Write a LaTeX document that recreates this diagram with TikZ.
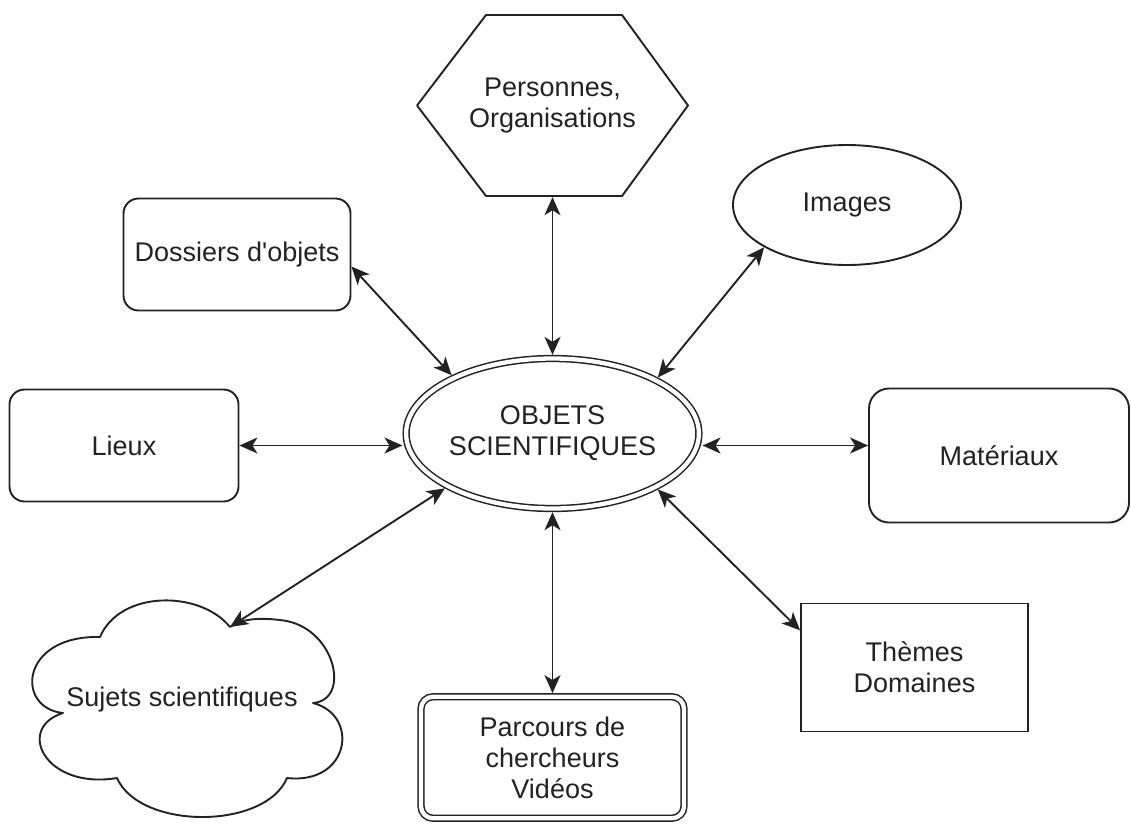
\documentclass[tikz,border=0pt]{standalone}
\usepackage{fontspec}
\setmainfont{Liberation Sans}[Ligatures=TeXOff]
\usetikzlibrary{shapes.geometric,arrows.meta}
\definecolor{ink}{HTML}{222222}
\begin{document}
\begin{tikzpicture}[x=1pt,y=-1pt,
  >={Stealth[length=18pt,width=16pt,inset=5pt]},
  every node/.style={font=\fontsize{27}{31}\selectfont, text=ink, align=center},
  line/.style={draw=ink, line width=1.9pt},
  box/.style={line, rectangle, rounded corners=15pt, inner sep=0pt},
  dbl/.style={draw=ink, line width=1.5pt, double=white, double distance=4.3pt, outer sep=3.65pt},
  arr/.style={draw=ink, line width=1.9pt, <->}]
\useasboundingbox (0,0) rectangle (1131,823);

% central node
\node[ellipse, dbl, minimum width=263, minimum height=150, inner sep=0pt] (ctr) at (552.5,433.5) {OBJETS\\SCIENTIFIQUES};

% hexagon
\draw[line, line join=round] (417,105.5) -- (486,15) -- (622,15) -- (688,105.5) -- (622,196) -- (486,196) -- cycle;
\node[minimum width=271, minimum height=183, inner sep=0pt] (hex) at (552.5,105.5) {Personnes,\\Organisations};

% images
\node[ellipse, line, minimum width=228, minimum height=120, inner sep=0pt] (img) at (847,205) {Images};

% boxes
\node[box, minimum width=227, minimum height=112] (dos) at (237,254.5) {Dossiers d'objets};
\node[box, minimum width=229, minimum height=112] (lieux) at (124,445.5) {Lieux};
\node[box, rounded corners=20pt, minimum width=260, minimum height=134] (mat) at (999,455.5) {Matériaux};
\node[line, rectangle, minimum width=227, minimum height=128, inner sep=0pt] (th) at (914.5,667.5) {Thèmes\\Domaines};
\node[dbl, rectangle, rounded corners=12pt, minimum width=263, minimum height=121.5, inner sep=0pt] (parc) at (552.5,757.5) {Parcours de\\chercheurs\\Vidéos};

% cloud
\coordinate (ctip) at (230,627);
\draw[line, line join=round] (ctip) .. controls (200,590) and (120,590) .. (100,637)
  .. controls (20,635) and (15,708) .. (63,713)
  .. controls (15,728) and (45,790) .. (117,778)
  .. controls (140,830) and (265,830) .. (287,778)
  .. controls (350,785) and (360,715) .. (313,703)
  .. controls (352,700) and (335,625) .. (280,620)
  .. controls (255,617) and (240,620) .. (ctip);
\node (suj) at (182,700) {Sujets scientifiques};

% connectors
\draw[arr] (dos.-6.6) -- (ctr.150.7);
\draw[arr] (hex.south) -- (ctr.north);
\draw[arr] (img.-153.4) -- (ctr.28.4);
\draw[arr] (lieux.east) -- (ctr.west |- lieux.east);
\draw[arr] (ctr.east |- lieux.east) -- (mat.west |- lieux.east);
\draw[arr] (ctr.207.8) -- (ctip);
\draw[arr] (ctr.south) -- (parc.north);
\draw[arr] (ctr.-28.3) -- (th.162.8);
\end{tikzpicture}
\end{document}
